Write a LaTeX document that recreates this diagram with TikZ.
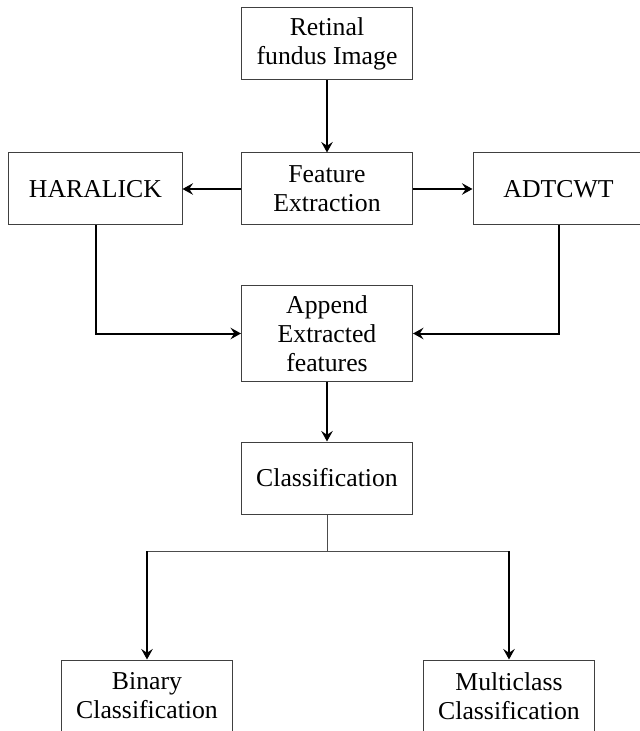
\documentclass[tikz,border=0pt]{standalone}
\usepackage{fontspec}
\setmainfont{Liberation Serif}
\usetikzlibrary{arrows.meta}
\begin{document}
\begin{tikzpicture}[x=0.4pt,y=-0.4pt,
  box/.style={draw=black!75, thin, rectangle, align=center, inner sep=0pt,
    minimum width=68.4pt, minimum height=28.8pt,
    font=\fontsize{10.3}{11.6}\selectfont},
  arr/.style={draw=black, thick, -{Stealth[length=4.2pt,width=4.6pt,inset=1.5pt]}},
  plain/.style={draw=black!70, thin}]
\useasboundingbox (0,0) rectangle (639,731);
\node[box] (ret) at (327,44) {Retinal\\fundus Image};
\node[box] (feat) at (327,189) {Feature\\Extraction};
\node[box, minimum width=69.2pt] (har) at (95.5,189) {HARALICK};
\node[box] (adt) at (558.5,189) {ADTCWT};
\node[box, minimum height=38pt] (app) at (327,333.5) {Append\\Extracted\\features};
\node[box] (cls) at (327,478) {Classification};
\node[box] (bin) at (147,696) {Binary\\Classification};
\node[box] (mul) at (509,696) {Multiclass\\Classification};
\coordinate (split) at (327,551);
\draw[arr] (ret.south) -- (feat.north);
\draw[arr] (feat.west) -- (har.east);
\draw[arr] (feat.east) -- (adt.west);
\draw[arr] (har.south) |- (app.west);
\draw[arr] (adt.south) |- (app.east);
\draw[arr] (app.south) -- (cls.north);
\draw[plain] (cls.south) -- (split);
\draw[plain] (bin.north |- split) -- (mul.north |- split);
\draw[arr] (bin.north |- split) -- (bin.north);
\draw[arr] (mul.north |- split) -- (mul.north);
\end{tikzpicture}
\end{document}
